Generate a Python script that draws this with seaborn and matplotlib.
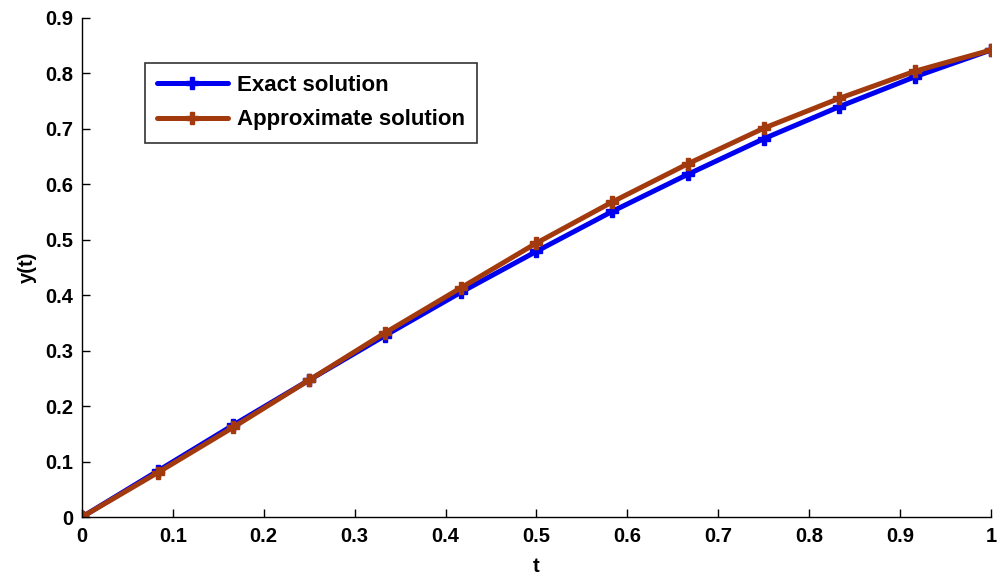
import numpy as np
import pandas as pd
import matplotlib
matplotlib.use("Agg")
import matplotlib.pyplot as plt
import seaborn as sns

# values, t = 0, 1/12, ..., 1
t = [0, 1/12, 2/12, 3/12, 4/12, 5/12, 6/12, 7/12, 8/12, 9/12, 10/12, 11/12, 1]
exact = [0, 0.083, 0.166, 0.247, 0.327, 0.405, 0.479, 0.551, 0.618, 0.682, 0.740, 0.794, 0.842]
approx = [0, 0.080, 0.162, 0.247, 0.332, 0.413, 0.494, 0.568, 0.637, 0.701, 0.755, 0.804, 0.842]

df = pd.concat([
    pd.DataFrame({"t": t, "y": exact, "series": "Exact solution"}),
    pd.DataFrame({"t": t, "y": approx, "series": "Approximate solution"}),
])

sns.set_style("white")
plt.rcParams["font.family"] = ["Liberation Sans", "DejaVu Sans"]
plt.rcParams["font.weight"] = "bold"
plt.rcParams["text.color"] = "black"
plt.rcParams["xtick.color"] = "black"
plt.rcParams["ytick.color"] = "black"
plt.rcParams["axes.labelcolor"] = "black"

fig = plt.figure(figsize=(9.99, 5.76), dpi=100)
ax = fig.add_axes([0.082, 0.1024, 0.910, 0.8666])

palette = {"Exact solution": "#0000F0", "Approximate solution": "#A33A0E"}
sns.lineplot(data=df, x="t", y="y", hue="series", palette=palette,
             marker="P", markersize=8, markeredgewidth=1, linewidth=3.6,
             ax=ax)
for line in ax.lines:
    line.set_markeredgecolor(line.get_color())

ax.set_xlim(0, 1)
ax.set_ylim(0, 0.9)
ax.set_xticks(np.arange(0, 1.01, 0.1))
ax.set_xticklabels(["0", "0.1", "0.2", "0.3", "0.4", "0.5", "0.6", "0.7", "0.8", "0.9", "1"])
ax.set_yticks(np.arange(0, 0.91, 0.1))
ax.set_yticklabels(["0", "0.1", "0.2", "0.3", "0.4", "0.5", "0.6", "0.7", "0.8", "0.9"])
ax.tick_params(direction="in", length=6, width=1, labelsize=14.5,
               bottom=True, left=True)
ax.tick_params(axis="x", pad=7)
ax.tick_params(axis="y", pad=6)
ax.set_xlabel("t", fontsize=14.5, fontweight="bold", labelpad=8)
ax.set_ylabel("y(t)", fontsize=14.5, fontweight="bold", labelpad=6)
for s in ["top", "right"]:
    ax.spines[s].set_visible(False)
for s in ["left", "bottom"]:
    ax.spines[s].set_color("black")
    ax.spines[s].set_linewidth(1)

leg = ax.legend(loc="upper left", bbox_to_anchor=(0.069, 0.91), fontsize=16,
                frameon=True, fancybox=False, edgecolor="black",
                borderaxespad=0, handlelength=3.2, borderpad=0.55,
                labelspacing=0.6, handletextpad=0.4)
leg.get_frame().set_linewidth(1.2)
for txt in leg.get_texts():
    txt.set_fontweight("bold")

fig.savefig("out.png", dpi=100)
